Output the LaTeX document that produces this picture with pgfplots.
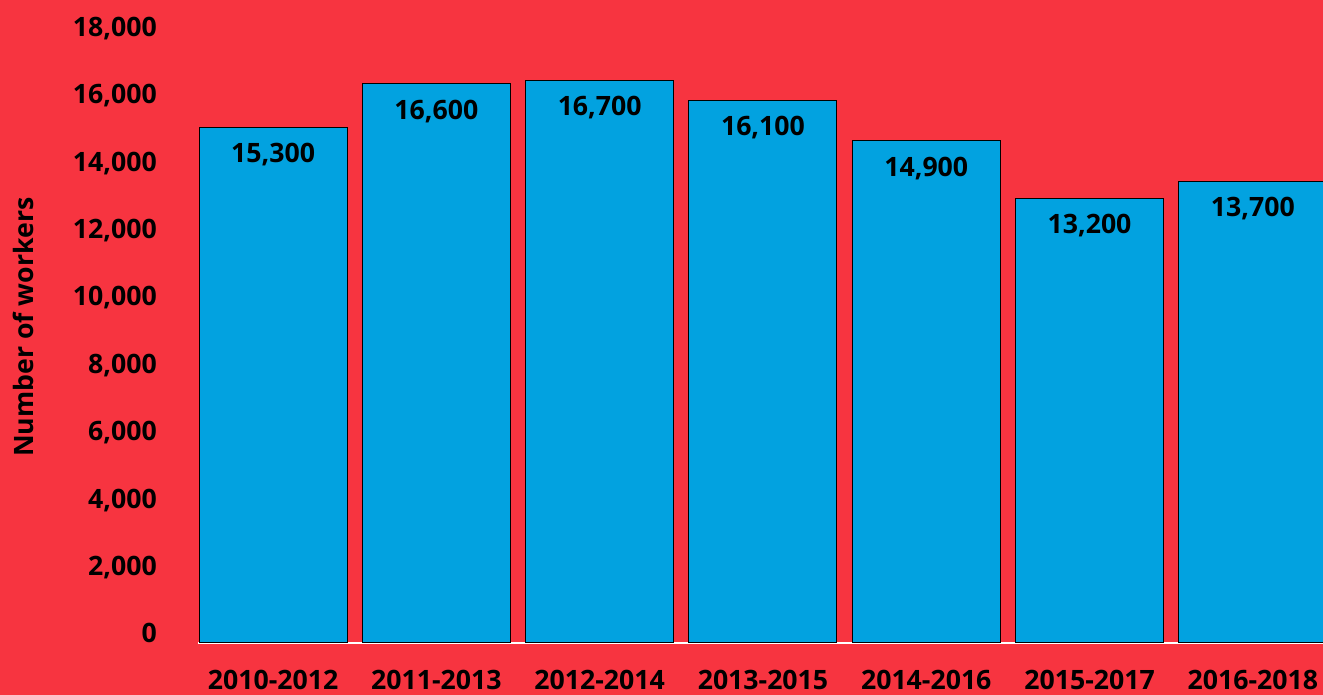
\documentclass[border=0pt]{standalone}
\usepackage{fontspec}
\setmainfont{Open Sans}
\usepackage{pgfplots}
\pgfplotsset{compat=1.18}
\definecolor{bg}{RGB}{247,52,64}
\definecolor{barblue}{RGB}{2,162,224}
\begin{document}
\begin{tikzpicture}
\fill[bg] (0pt,0pt) rectangle (992.25pt,521.25pt);
\begin{axis}[
  at={(148.5pt,39pt)}, anchor=south west, scale only axis,
  width=843.75pt, height=460pt,
  xmin=-0.46, xmax=6.43, ymin=0, ymax=18200,
  axis line style={draw=none},
  tick style={draw=none},
  major tick length=0pt,
  xtick=data,
  xticklabels={2010-2012,2011-2013,2012-2014,2013-2015,2014-2016,2015-2017,2016-2018},
  ytick={0,2000,...,18000},
  scaled y ticks=false,
  extra y ticks={0},
  extra y tick labels={},
  extra y tick style={grid=major, major grid style={white, line width=1.5pt}},
  /pgf/number format/1000 sep={,},
  /pgf/number format/assume math mode=true,
  font=\fontsize{20}{24}\selectfont\bfseries,
  yticklabel style={anchor=base east, inner sep=0pt, xshift=-30.75pt},
  xticklabel style={anchor=north, inner sep=0pt, yshift=-20.5pt},
  ylabel={Number of workers},
  ylabel style={at={(axis description cs:-0.1555,0.515)}, anchor=center},
  clip=true,
]
\addplot[ybar, bar width=111pt, fill=barblue, draw=black, line width=0.75pt,
  nodes near coords, nodes near coords align={below},
  every node near coord/.append style={inner sep=0pt, yshift=-11.7pt, text=black}]
  coordinates {(0,15300) (1,16600) (2,16700) (3,16100) (4,14900) (5,13200) (6,13700)};
\end{axis}
\pgfresetboundingbox
\useasboundingbox (0pt,0pt) rectangle (992.25pt,521.25pt);
\end{tikzpicture}
\end{document}
